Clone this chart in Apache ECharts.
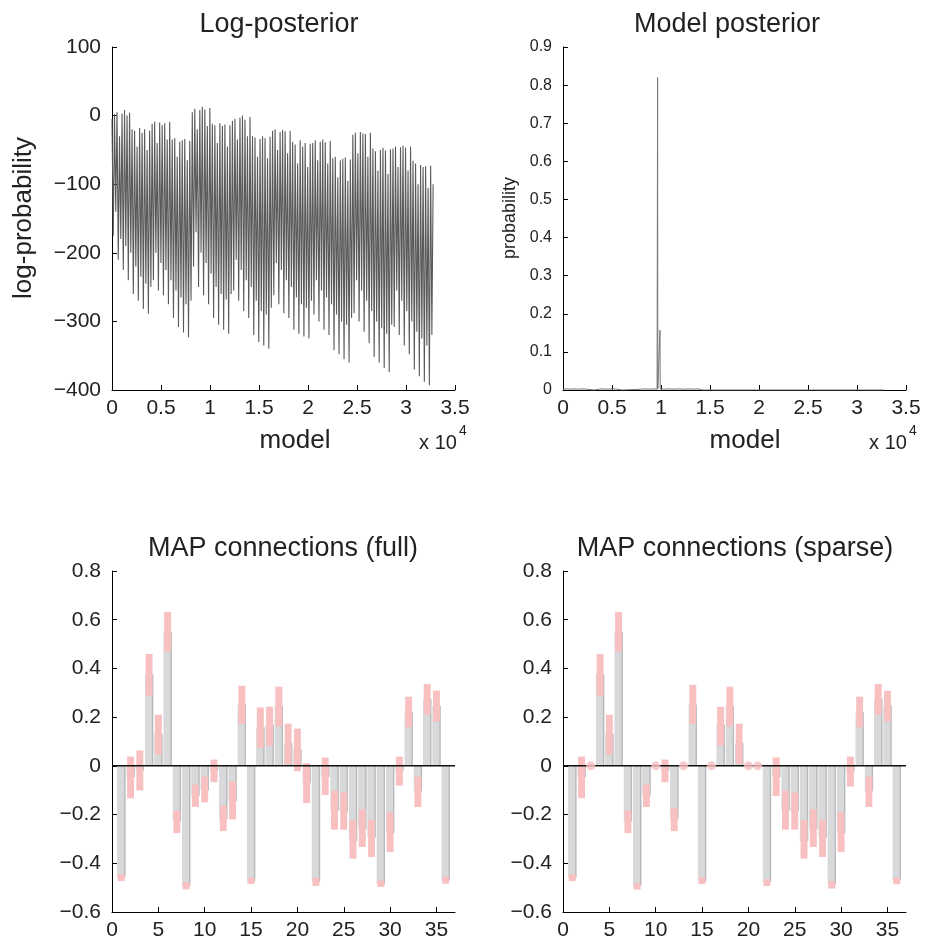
<!DOCTYPE html>
<html>
<head>
<meta charset="utf-8">
<script src="https://cdn.jsdelivr.net/npm/echarts@6/dist/echarts.min.js"></script>
<style>
html,body{margin:0;padding:0;background:#fff;}
#c{width:925px;height:942px;}
</style>
</head>
<body>
<div id="c"></div>
<script>
// ---------- DATA ----------
// Log-posterior over 32768 models, read as alternating local peaks / troughs every 128 models
const logStep = 128;
const logPeaks = [
  -5, 2, 5, -30, 3, 8, 0, 4, -20, -22, -45, -18, -25, -20, -50, -22,
  -12, -9, -40, -10, -14, -11, -35, -9, -35, -33, -60, -38, -36, -34, -65, -37,
  5, 10, -20, 8, 13, 9, -15, 11, -12, -14, -40, -11, -15, -13, -45, -14,
  -8, -5, -35, -3, 0, -6, -30, -2, -30, -32, -60, -34, -30, -33, -62, -31,
  -22, -20, -50, -24, -21, -23, -55, -22, -38, -42, -70, -36, -45, -40, -75, -41,
  -40, -36, -65, -38, -35, -39, -70, -37, -62, -60, -90, -65, -63, -61, -95, -64,
  -28, -25, -55, -24, -26, -27, -60, -25, -48, -52, -80, -50, -47, -51, -85, -49,
  -48, -45, -75, -46, -44, -47, -80, -45, -66, -70, -100, -72, -75, -74, -105, -73,
  -100
];
const logTroughs = [
  -175, -140, -210, -180, -225, -190, -240, -200, -260, -220, -270, -235, -282, -245, -289, -250,
  -240, -200, -255, -215, -262, -225, -275, -240, -295, -255, -308, -265, -316, -275, -323, -270,
  -220, -170, -250, -200, -262, -215, -275, -230, -295, -250, -305, -260, -312, -268, -318, -260,
  -255, -210, -270, -225, -285, -240, -295, -250, -320, -270, -330, -285, -335, -290, -340, -280,
  -262, -215, -275, -225, -288, -240, -295, -250, -312, -265, -318, -275, -322, -280, -325, -270,
  -290, -240, -300, -255, -312, -265, -320, -275, -342, -290, -348, -300, -355, -305, -360, -295,
  -288, -240, -300, -255, -315, -270, -332, -285, -352, -300, -360, -310, -368, -318, -374, -305,
  -308, -255, -320, -270, -335, -285, -348, -300, -370, -315, -380, -325, -388, -335, -393, -320
];

// Model posterior
const postModel = [0, 400, 800, 1200, 1600, 2000, 2400, 3200, 3600, 4000, 4400, 5200, 5600, 6000, 8000, 8400, 8800, 9200, 9600, 9630, 9653, 9676, 9870, 9895, 9920, 10300, 10800, 11300, 11800, 12300, 12800, 13300, 13800, 14200, 20000, 25000, 30000, 32768];
const postProb  = [0.002, 0.003, 0.002, 0.003, 0.002, 0.003, 0.002, 0, 0.002, 0.003, 0.002, 0.003, 0.002, 0, 0.002, 0.003, 0.002, 0.003, 0.002, 0.003, 0.82, 0.003, 0.003, 0.157, 0.003, 0.002, 0.003, 0.002, 0.003, 0.002, 0.003, 0.002, 0.003, 0, 0, 0, 0, 0];

// MAP connections
const connIdx = [1,2,3,4,5,6,7,8,9,10,11,12,13,14,15,16,17,18,19,20,21,22,23,24,25,26,27,28,29,30,31,32,33,34,35,36];
const fullMAP = [-0.456,-0.047,-0.019,0.377,0.131,0.55,-0.227,-0.493,-0.122,-0.101,-0.019,-0.219,-0.145,0.251,-0.474,0.158,0.169,0.246,0.093,0.067,-0.071,-0.477,-0.046,-0.183,-0.186,-0.309,-0.258,-0.295,-0.486,-0.276,-0.022,0.219,-0.104,0.273,0.247,-0.47];
const fullLo  = [-0.473,-0.133,-0.101,0.288,0.046,0.469,-0.276,-0.507,-0.169,-0.150,-0.067,-0.268,-0.220,0.172,-0.485,0.074,0.083,0.161,0.008,-0.022,-0.153,-0.493,-0.12,-0.262,-0.262,-0.381,-0.333,-0.374,-0.497,-0.354,-0.081,0.158,-0.169,0.21,0.182,-0.484];
const fullHi  = [-0.445,0.038,0.063,0.459,0.21,0.632,-0.183,-0.477,-0.077,-0.044,0.026,-0.163,-0.064,0.329,-0.458,0.24,0.243,0.325,0.173,0.153,0.011,-0.46,0.034,-0.101,-0.109,-0.223,-0.179,-0.221,-0.47,-0.19,0.038,0.284,-0.044,0.336,0.309,-0.454];

const sparseMAP = [-0.458,-0.047,null,0.377,0.131,0.55,-0.227,-0.493,-0.122,null,-0.019,-0.219,null,0.251,-0.474,null,0.169,0.246,0.093,null,null,-0.477,-0.046,-0.183,-0.186,-0.309,-0.258,-0.295,-0.486,-0.276,-0.022,0.219,-0.104,0.273,0.247,-0.47];
const sparseLo  = [-0.473,-0.133,null,0.288,0.046,0.469,-0.276,-0.508,-0.169,null,-0.067,-0.268,null,0.172,-0.485,null,0.083,0.161,0.008,null,null,-0.493,-0.124,-0.262,-0.262,-0.381,-0.333,-0.374,-0.504,-0.354,-0.085,0.158,-0.169,0.21,0.182,-0.486];
const sparseHi  = [-0.445,0.038,null,0.459,0.21,0.632,-0.183,-0.481,-0.077,null,0.026,-0.172,null,0.333,-0.458,null,0.243,0.325,0.173,null,null,-0.465,0.034,-0.101,-0.109,-0.223,-0.179,-0.221,-0.474,-0.19,0.038,0.284,-0.044,0.336,0.309,-0.459];
const sparseZeroIdx = [3,10,13,16,20,21];

const titles = ['Log-posterior','Model posterior','MAP connections (full)','MAP connections (sparse)'];

// ---------- BUILD ----------
const logData = [];
for (let i = 0; i < logTroughs.length; i++) {
  logData.push([2*i*logStep, logPeaks[i]]);
  logData.push([(2*i+1)*logStep, logTroughs[i]]);
}
logData.push([2*logTroughs.length*logStep, logPeaks[logTroughs.length]]);

const postData = postModel.map((m,i)=>[m, postProb[i]]);

function barData(vals){ const d=[]; vals.forEach((v,i)=>{ if(v!==null) d.push([connIdx[i], v]); }); return d; }
function rangeData(lo,hi){ const d=[]; lo.forEach((v,i)=>{ if(v!==null) d.push([connIdx[i], v, hi[i]]); }); return d; }

const FONT = '"Liberation Sans", Arial, Helvetica, sans-serif';
const minus = s => String(s).replace('-', '\u2212');

function grayBar(params, api){
  const x = api.value(0), v = api.value(1);
  const a = api.coord([x-0.45, v]);
  const b = api.coord([x+0.45, 0]);
  const y0 = Math.min(a[1], b[1]), h = Math.abs(b[1]-a[1]);
  return {type:'group', children:[
    {type:'rect', shape:{x:a[0], y:y0, width:b[0]-a[0], height:h}, style:{fill:'#d8d9da'}},
    {type:'rect', shape:{x:b[0]-1.3, y:y0, width:1.3, height:h}, style:{fill:'#b7b8b9'}}
  ]};
}
function pinkRect(params, api){
  const x = api.value(0), lo = api.value(1), hi = api.value(2);
  const a = api.coord([x-0.375, hi]);
  const b = api.coord([x+0.375, lo]);
  return {type:'rect', shape:{x:a[0], y:a[1], width:b[0]-a[0], height:b[1]-a[1]}, style:{fill:'#f8c0c0'}};
}

function xAx(idx, max, interval, fmt, showMax){
  return {gridIndex:idx, type:'value', min:0, max:max, interval:interval,
    axisLine:{show:true, onZero:false, lineStyle:{color:'#000', width:1}},
    axisTick:{show:true, inside:true, length:5, lineStyle:{color:'#000'}},
    splitLine:{show:false},
    axisLabel:{color:'#222', fontSize:21, fontFamily:FONT, margin:8, formatter:fmt, showMaxLabel:showMax, showMinLabel:true}};
}
function yAx(idx, min, max, interval, fmt, fs){
  return {gridIndex:idx, type:'value', min:min, max:max, interval:interval,
    axisLine:{show:true, onZero:false, lineStyle:{color:'#000', width:1}},
    axisTick:{show:true, inside:true, length:5, lineStyle:{color:'#000'}},
    splitLine:{show:false},
    axisLabel:{color:'#222', fontSize:fs, fontFamily:FONT, margin:11, formatter:fmt, showMaxLabel:true, showMinLabel:true}};
}
const fmtE4 = v => v===0 ? '0' : String(v/1e4);
const fmtInt = v => minus(v);
const fmtBottom = v => (v % 5 === 0) ? String(v) : '';
const fmt1 = v => Math.abs(v)<1e-9 ? '0' : minus((Math.round(v*10)/10).toFixed(1));

function txt(t, x, y, size, extra){
  return Object.assign({type:'text', x:x, y:y, style:{text:t, font:size+'px '+FONT, fill:'#222', textAlign:'center', textVerticalAlign:'middle'}}, extra||{});
}

const option = {
  backgroundColor:'#fff',
  animation:false,
  grid:[
    {left:112, top:47, width:343, height:343},
    {left:563, top:47, width:343, height:343},
    {left:112, top:571, width:343, height:341},
    {left:563, top:571, width:343, height:341}
  ],
  xAxis:[
    xAx(0, 35000, 5000, fmtE4, true),
    xAx(1, 35000, 5000, fmtE4, true),
    xAx(2, 37, 5, fmtBottom, false),
    xAx(3, 37, 5, fmtBottom, false)
  ],
  yAxis:[
    yAx(0, -400, 100, 100, fmtInt, 21),
    yAx(1, 0, 0.9, 0.1, fmt1, 16),
    yAx(2, -0.6, 0.8, 0.2, fmt1, 21),
    yAx(3, -0.6, 0.8, 0.2, fmt1, 21)
  ],
  series:[
    {type:'line', xAxisIndex:0, yAxisIndex:0, data:logData, showSymbol:false, sampling:null,
     lineStyle:{color:'#5a5a5a', width:1.1}, z:2},
    {type:'line', xAxisIndex:1, yAxisIndex:1, data:postData, showSymbol:false,
     lineStyle:{color:'#777', width:1}, z:2},
    // full
    {type:'custom', xAxisIndex:2, yAxisIndex:2, data:barData(fullMAP), renderItem:grayBar, encode:{x:0,y:1}, z:2},
    {type:'custom', xAxisIndex:2, yAxisIndex:2, data:rangeData(fullLo, fullHi), renderItem:pinkRect, encode:{x:0,y:[1,2]}, z:3},
    {type:'line', xAxisIndex:2, yAxisIndex:2, data:[[0,0],[37,0]], showSymbol:false, lineStyle:{color:'#111', width:1.5}, z:4},
    // sparse
    {type:'custom', xAxisIndex:3, yAxisIndex:3, data:barData(sparseMAP), renderItem:grayBar, encode:{x:0,y:1}, z:2},
    {type:'custom', xAxisIndex:3, yAxisIndex:3, data:rangeData(sparseLo, sparseHi), renderItem:pinkRect, encode:{x:0,y:[1,2]}, z:3},
    {type:'line', xAxisIndex:3, yAxisIndex:3, data:[[0,0],[37,0]], showSymbol:false, lineStyle:{color:'#111', width:1.5}, z:4},
    {type:'scatter', xAxisIndex:3, yAxisIndex:3, data:sparseZeroIdx.map(i=>[i,0]), symbol:'circle', symbolSize:9,
     itemStyle:{color:'#f8c0c0'}, z:5}
  ],
  graphic:[
    txt(titles[0], 279, 25, 27),
    txt(titles[1], 727, 25, 27),
    txt(titles[2], 283, 549, 27),
    txt(titles[3], 735, 549, 27),
    txt('log-probability', 24, 218, 26, {rotation:Math.PI/2}),
    txt('probability', 510, 218, 18, {rotation:Math.PI/2}),
    txt('model', 295, 441, 26),
    txt('model', 745, 441, 26),
    txt('x 10', 438, 443, 20),
    txt('4', 463, 431, 14),
    txt('x 10', 888, 443, 20),
    txt('4', 913, 431, 14)
  ]
};
const chart = echarts.init(document.getElementById('c'), null, {renderer:'canvas'});
chart.setOption(option);
</script>
</body>
</html>
